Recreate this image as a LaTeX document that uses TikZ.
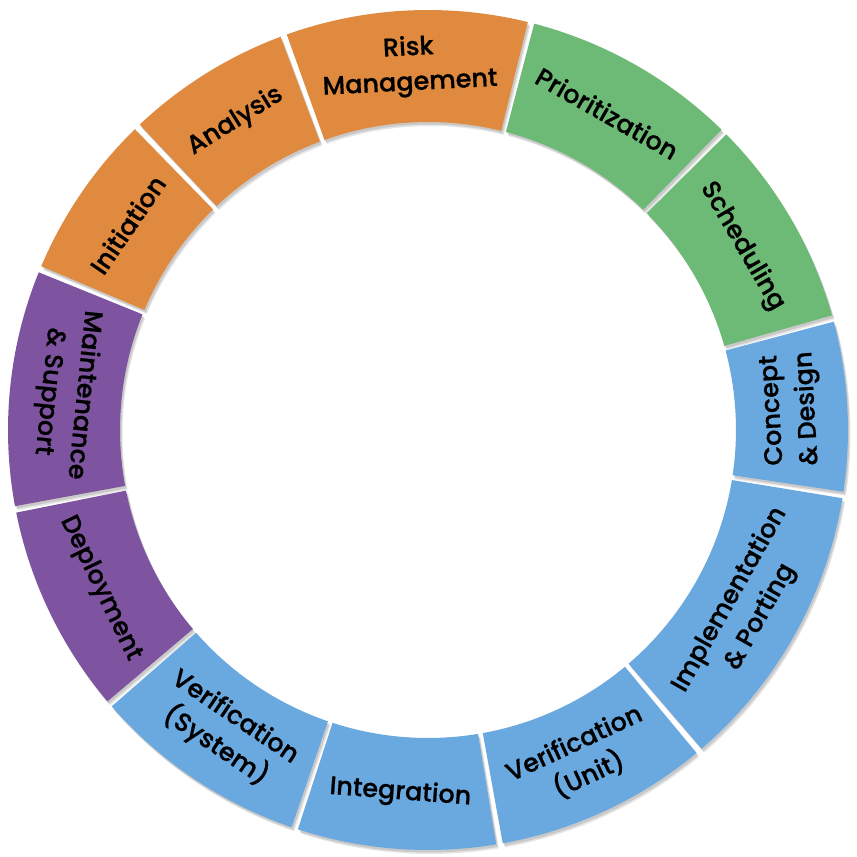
\documentclass[tikz,border=0pt]{standalone}
\usepackage{fontspec}
\IfFontExistsTF{Poppins Medium}{\setmainfont{Poppins Medium}[FakeBold=0.6,AutoFakeBold=0.6]}{\setmainfont{Poppins}[FakeBold=1.2,AutoFakeBold=1.2]}
\definecolor{segorange}{HTML}{E08A40}
\definecolor{seggreen}{HTML}{6DB976}
\definecolor{segblue}{HTML}{6AA9E0}
\definecolor{segpurple}{HTML}{7E54A0}
\tikzset{
  seglabel/.style={align=center, text=black, inner sep=0pt,
    font=\fontsize{25.5}{35}\selectfont\bfseries},
}
\newcommand{\segpath}[2]{(#1+0.45:420) arc[start angle=#1+0.45, end angle=#2-0.45, radius=420] -- (#2-0.45:308) arc[start angle=#2-0.45, end angle=#1+0.45, radius=308] -- cycle}
\begin{document}
\begin{tikzpicture}[x=1pt,y=1pt]
\useasboundingbox[fill=white] (-428,-427) rectangle (429,430);
\def\seglist{75.8/110.1/segorange/{Risk\\Management}/-90,
  110.1/133.8/segorange/{Analysis}/-90,
  133.8/157.5/segorange/{Initiation}/-90,
  157.5/190.9/segpurple/{Maintenance\\\& Support}/90,
  190.9/220.7/segpurple/{Deployment}/90,
  220.7/251.5/segblue/{Verification\\(System)}/90,
  251.5/279.8/segblue/{Integration}/90,
  279.8/310.2/segblue/{Verification\\(Unit)}/90,
  310.2/351.1/segblue/{Implementation\\\& Porting}/90,
  351.1/375.4/segblue/{Concept\\\& Design}/90,
  15.4/45.2/seggreen/{Scheduling}/-90,
  45.2/75.8/seggreen/{Prioritization}/-90}
% shadows
\foreach \a/\b/\c/\t/\r in \seglist {
  \fill[black,opacity=0.10,shift={(2.5,-4)}] \segpath{\a}{\b};
  \fill[black,opacity=0.12,shift={(1.5,-2.5)}] \segpath{\a}{\b};
}
% segments and labels
\foreach \a/\b/\c/\t/\r [count=\i] in \seglist {
  \fill[\c] \segpath{\a}{\b};
  \pgfmathsetmacro\m{(\a+\b)/2}
  \pgfmathsetmacro\rot{\m+\r}
  \node[seglabel, rotate=\rot] (lab\i) at (\m:364) {\t};
}
\end{tikzpicture}
\end{document}
